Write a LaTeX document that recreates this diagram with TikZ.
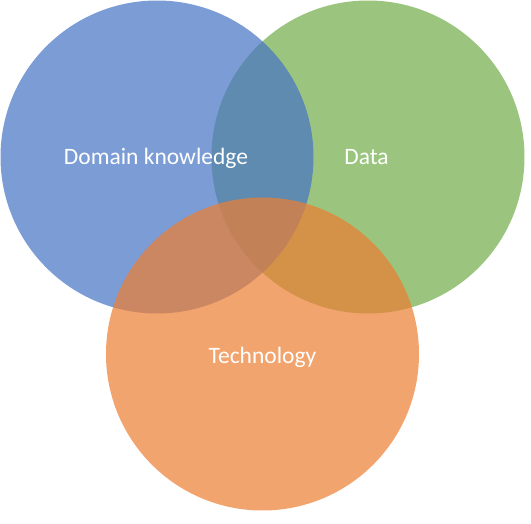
\documentclass[tikz,border=0pt]{standalone}
\usepackage{fontspec}
\setmainfont{Carlito}
\definecolor{cblue}{HTML}{4472C4}
\definecolor{cgreen}{HTML}{70AD47}
\definecolor{corange}{HTML}{ED7D31}
\begin{document}
\begin{tikzpicture}[x=1pt,y=-1pt,
  venn/.style={circle,draw=none,fill opacity=0.7,minimum size=313pt,inner sep=0pt},
  lbl/.style={text=white,font=\fontsize{23.5}{28}\selectfont,inner sep=0pt,anchor=base}]
\useasboundingbox (0,0) rectangle (531,524);
\node[venn,fill=cgreen] (data) at (368,157) {};
\node[venn,fill=cblue] (domain) at (157,157) {};
\node[venn,fill=corange] (tech) at (262.5,354) {};
\node[lbl] (tdomain) at (156,165) {Domain knowledge};
\node[lbl] (tdata) at (366.5,165) {Data};
\node[lbl] (ttech) at (262.5,363) {Technology};
\end{tikzpicture}
\end{document}
